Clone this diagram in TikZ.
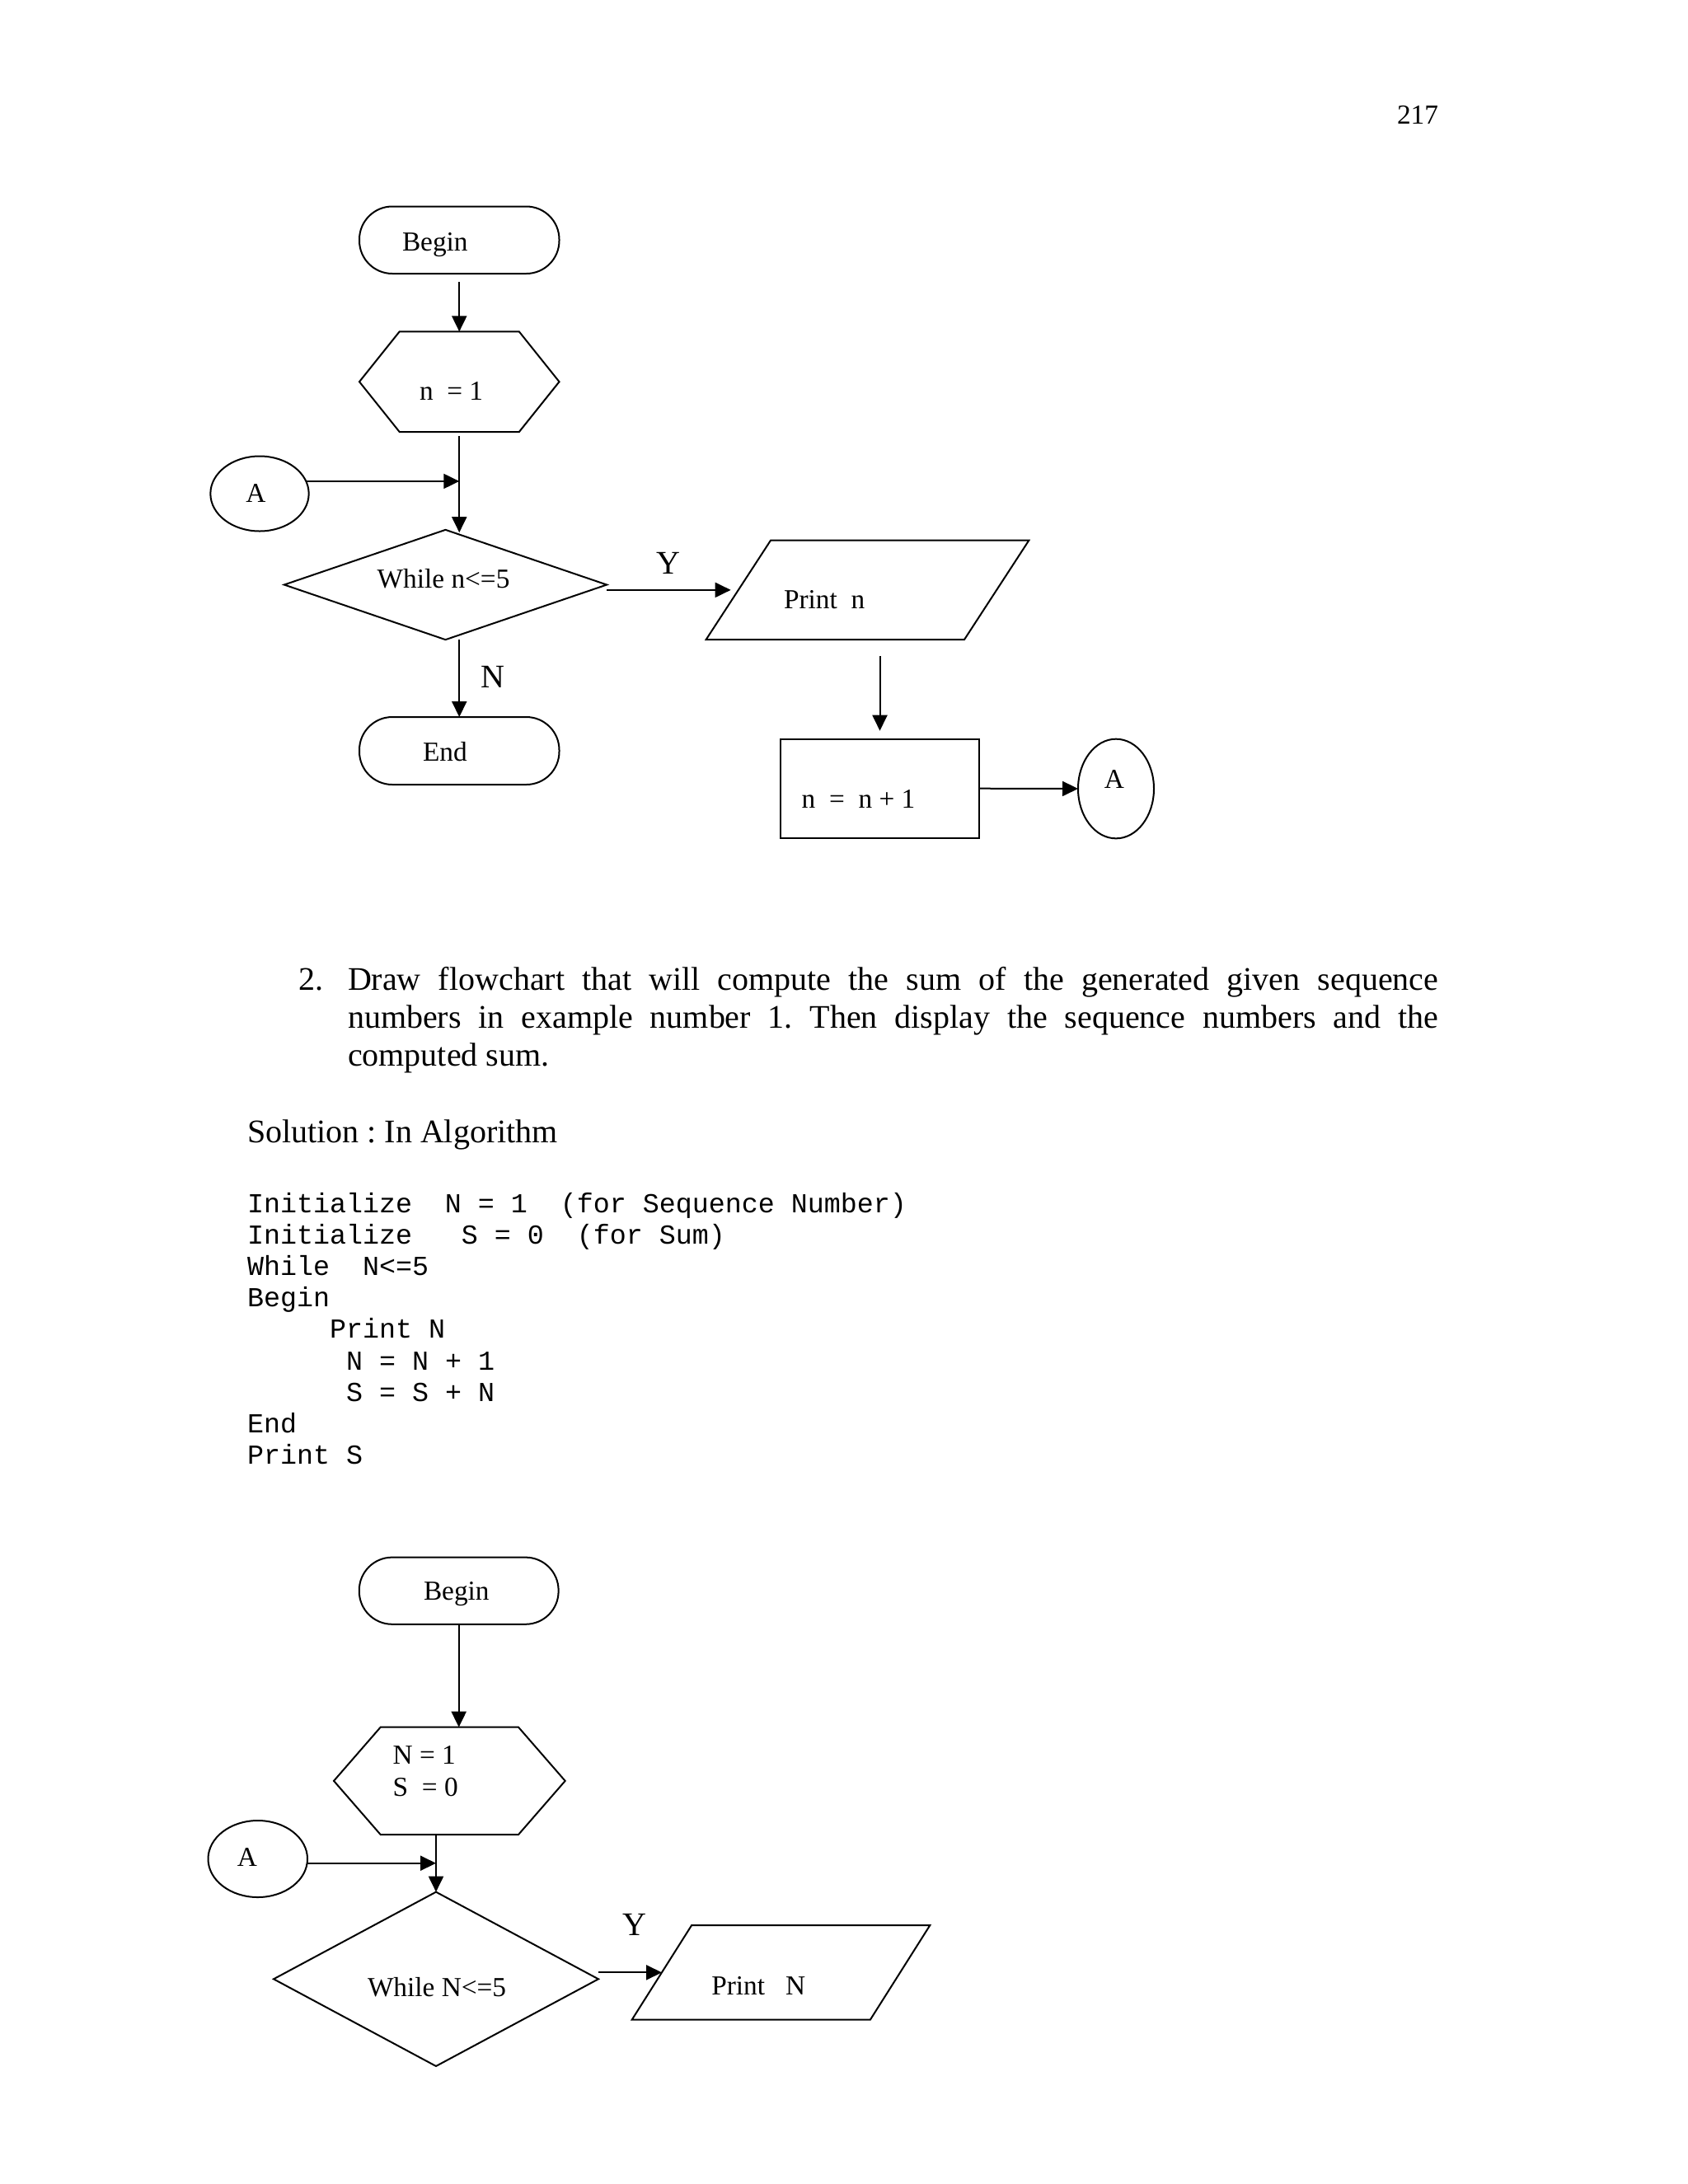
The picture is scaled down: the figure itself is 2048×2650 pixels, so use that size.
\documentclass[tikz,border=0pt]{standalone}
\usepackage{fontspec}
\setmainfont{Liberation Serif}
\setmonofont{Liberation Mono}
\usetikzlibrary{arrows.meta,shapes.geometric,calc}
\newcommand\fsten{\fontsize{10}{12}\selectfont}
\newcommand\fstwelve{\fontsize{12}{14}\selectfont}
\frenchspacing
\begin{document}
\begin{tikzpicture}[x=0.3pt,y=-0.3pt,line width=0.6pt,
  shp/.style={draw,inner sep=0pt,outer sep=0pt},
  term/.style={shp,rectangle,rounded corners=12pt},
  hexbox/.style={rectangle,inner sep=0pt,outer sep=0pt},
  dec/.style={shp,diamond},
  iobox/.style={rectangle,inner sep=0pt,outer sep=0pt},
  conn/.style={shp,ellipse},
  proc/.style={shp,rectangle},
  arr/.style={-{Triangle[length=5.7pt,width=5.4pt]}},
  txt/.style={anchor=base west,inner sep=0pt,outer sep=0pt,font=\fsten},
  big/.style={anchor=base,inner sep=0pt,outer sep=0pt,font=\fstwelve},
  body/.style={anchor=base west,inner sep=0pt,outer sep=0pt,font=\fstwelve},
  code/.style={anchor=base west,inner sep=0pt,outer sep=0pt,font=\fsten\ttfamily}]
\useasboundingbox (0,0) rectangle (2048,2650);
\fill[white] (0,0) rectangle (2048,2650);

% page number
\node[txt,anchor=base east] (pg) at (1745,150.7) {217};

% ---------- first flowchart ----------
\node[term,minimum width=72.75pt,minimum height=24.45pt] (begin1) at (557.25,291.25) {};
\node[txt] (tbegin1) at (488,304) {Begin};

\node[hexbox,minimum width=72.75pt,minimum height=36.5pt] (hex1) at (557.25,463.2) {};
\draw (hex1.west) -- ([xshift=14.6pt]hex1.north west) -- ([xshift=-14.6pt]hex1.north east)
  -- (hex1.east) -- ([xshift=-14.6pt]hex1.south east) -- ([xshift=14.6pt]hex1.south west) -- cycle;
\node[txt] (thex1) at (509,485.5) {n~~= 1};

\node[conn,minimum width=35.8pt,minimum height=27.3pt] (A1) at (315,599) {};
\node[txt,anchor=base] (tA1) at (310.5,609) {A};

\node[dec,minimum width=117.4pt,minimum height=40pt] (dec1) at (540.5,709.5) {};
\node[txt] (tdec1) at (457.7,713.3) {While n<=5};

\node[iobox,minimum width=117.5pt,minimum height=36.1pt] (print1) at (1052.5,715.85) {};
\draw (print1.south west) -- ([xshift=23.5pt]print1.north west) -- (print1.north east)
  -- ([xshift=-23.5pt]print1.south east) -- cycle;
\node[txt] (tprint1) at (951,738.3) {Print~~n};

\node[proc,minimum width=72.5pt,minimum height=36pt] (rect1) at (1067.5,956.7) {};
\node[txt] (trect1) at (972.7,980) {n~~=~~n~+~1};

\node[conn,minimum width=27.6pt,minimum height=36.2pt] (A2) at (1354,957) {};
\node[txt,anchor=base] (tA2) at (1352,956) {A};

\node[term,minimum width=72.75pt,minimum height=24.6pt] (end1) at (557.25,911) {};
\node[txt] (tend1) at (513,923) {End};

\node[big] (Y1) at (811,696) {Y};
\node[big] (N1) at (597.7,834) {N};

\draw[arr] ([yshift=-3pt]begin1.south) -- (hex1.north);
\draw[arr] ([yshift=-1.5pt]hex1.south) -- ([yshift=-1pt]hex1.south |- dec1.north);
\draw[arr] (A1.15) -- (A1.15 -| hex1.south);
\draw[arr] (dec1.east |- print1.west) -- ([xshift=9pt]print1.west);
\draw[arr] ([yshift=-6pt]print1.south -| rect1.north) -- ([yshift=3pt]rect1.north);
\draw[arr] (rect1.east) -- (A2.west);
\draw[arr] (end1.north |- dec1.south) -- (end1.north);

% ---------- text ----------
\node[body] (num) at (362.5,1201) {2.};
\node[body] (line1) at (422,1201) {\makebox[397pt][s]{Draw flowchart that will compute the sum of the generated given sequence}};
\node[body] (line2) at (422,1247) {\makebox[397pt][s]{numbers in example number 1. Then display the sequence numbers and the}};
\node[body] (line3) at (422,1293) {computed sum.};

\node[body] (sol) at (300,1386) {Solution : In Algorithm};

\node[code] (c1) at (300,1471) {Initialize~~N~=~1~~(for~Sequence~Number)};
\node[code] (c2) at (300,1509.2) {Initialize~~~S~=~0~~(for~Sum)};
\node[code] (c3) at (300,1547.4) {While~~N<=5};
\node[code] (c4) at (300,1585.6) {Begin};
\node[code] (c5) at (300,1623.8) {~~~~~Print~N};
\node[code] (c6) at (300,1662) {~~~~~~N~=~N~+~1};
\node[code] (c7) at (300,1700.2) {~~~~~~S~=~S~+~N};
\node[code] (c8) at (300,1738.4) {End};
\node[code] (c9) at (300,1776.6) {Print~S};

% ---------- second flowchart ----------
\node[term,minimum width=72.55pt,minimum height=24.35pt] (begin2) at (556.7,1930.2) {};
\node[txt] (tbegin2) at (514,1941.2) {Begin};

\node[hexbox,minimum width=84.2pt,minimum height=39.1pt] (hex2) at (545.35,2160.85) {};
\draw (hex2.west) -- ([xshift=17pt]hex2.north west) -- ([xshift=-17pt]hex2.north east)
  -- (hex2.east) -- ([xshift=-17pt]hex2.south east) -- ([xshift=17pt]hex2.south west) -- cycle;
\node[txt] (thex2a) at (476.7,2140) {N = 1};
\node[txt] (thex2b) at (476.7,2179.3) {S~~= 0};

\node[conn,minimum width=36.15pt,minimum height=27.9pt] (A3) at (312.75,2255.5) {};
\node[txt,anchor=base] (tA3) at (300,2264) {A};

\node[dec,minimum width=118.2pt,minimum height=63.4pt] (dec2) at (529,2401.3) {};
\node[txt] (tdec2) at (446,2422.6) {While N<=5};

\node[iobox,minimum width=108.5pt,minimum height=34.4pt] (print2) at (947.5,2393.35) {};
\draw (print2.south west) -- ([xshift=21.75pt]print2.north west) -- (print2.north east)
  -- ([xshift=-21.75pt]print2.south east) -- cycle;
\node[txt] (tprint2) at (863.3,2420) {Print~~~N};

\node[big] (Y2) at (770,2348) {Y};

\draw[arr] (begin2.south) -- (begin2.south |- hex2.north);
\draw[arr] (dec2.north |- hex2.south) -- (dec2.north);
\draw[arr] (A3.-5) -- (A3.-5 -| dec2.north);
\draw[arr] (dec2.east |- print2.west) -- ([xshift=10.9pt]print2.west);
\end{tikzpicture}
\end{document}
